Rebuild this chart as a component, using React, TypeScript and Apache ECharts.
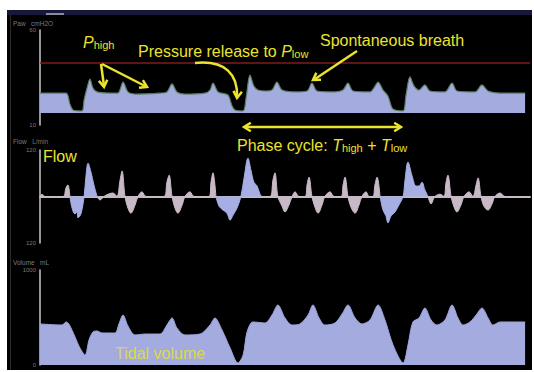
import React, { useEffect, useRef } from "react";
import * as echarts from "echarts";

// ---- Pressure (Paw, cmH2O) ----
const pressureTime = [0, 1.06, 1.22, 1.35, 1.71, 1.8, 1.92, 2.04, 2.16, 2.33, 2.86, 3.18, 3.39, 3.59, 3.88, 4.9, 5.18, 5.39, 5.59, 5.92, 6.73, 6.94, 7.06, 7.27, 7.67, 7.84, 7.96, 8.29, 8.41, 8.57, 8.73, 8.9, 9.22, 9.47, 9.67, 9.88, 10.41, 10.9, 11.1, 11.31, 12.04, 12.37, 12.57, 12.78, 13.47, 13.63, 13.8, 14.0, 14.2, 14.37, 14.49, 14.82, 14.94, 15.1, 15.27, 15.47, 15.71, 15.92, 16.53, 16.82, 17.02, 17.76, 18.04, 18.29, 18.78, 19.8];
const pressureCmH2O = [26.8, 26.8, 21.1, 17.9, 17.4, 23.2, 29.5, 34.2, 29.5, 27.4, 26.8, 26.8, 32.6, 27.4, 26.3, 26.8, 27.4, 31.6, 27.4, 26.3, 26.8, 28.4, 32.1, 27.4, 25.8, 20.0, 17.9, 17.4, 24.2, 36.3, 30.5, 28.4, 27.9, 28.4, 32.6, 28.4, 27.4, 27.9, 32.1, 27.9, 27.4, 28.4, 32.1, 27.9, 27.4, 29.5, 32.6, 28.4, 25.3, 18.9, 17.9, 17.4, 25.8, 35.3, 30.5, 28.4, 31.1, 27.9, 27.4, 32.1, 27.9, 27.4, 31.1, 27.9, 26.8, 26.8];
const pressureFillBase = 16.3;
const pressureLimit = 42.6;
const pressureTicks = [10, 60];

// ---- Flow (L/min) ----
const flowTime = [0, 0.08, 0.2, 0.94, 1.06, 1.14, 1.22, 1.31, 1.43, 1.51, 1.55, 1.67, 1.8, 1.88, 1.96, 2.08, 2.2, 2.33, 2.45, 2.61, 2.78, 2.98, 3.14, 3.27, 3.35, 3.47, 3.59, 3.71, 3.88, 4.0, 4.16, 4.33, 5.06, 5.18, 5.27, 5.39, 5.51, 5.63, 5.8, 5.92, 6.12, 6.29, 6.9, 6.98, 7.06, 7.18, 7.31, 7.47, 7.63, 7.76, 7.88, 8.04, 8.2, 8.33, 8.49, 8.61, 8.73, 8.86, 8.98, 9.06, 9.39, 9.51, 9.59, 9.71, 9.88, 10.0, 10.16, 10.29, 10.41, 10.57, 10.82, 10.9, 10.98, 11.1, 11.22, 11.35, 11.51, 11.63, 11.84, 12.0, 12.29, 12.37, 12.45, 12.57, 12.69, 12.86, 13.02, 13.14, 13.31, 13.43, 13.59, 13.67, 13.76, 13.88, 14.0, 14.12, 14.2, 14.33, 14.49, 14.65, 14.82, 14.9, 15.02, 15.18, 15.35, 15.47, 15.59, 15.71, 15.84, 15.96, 16.12, 16.33, 16.49, 16.57, 16.65, 16.78, 16.9, 17.02, 17.18, 17.31, 17.51, 17.67, 17.8, 17.88, 18.0, 18.12, 18.29, 18.45, 18.57, 18.78, 18.98, 20];
const flowLpm = [0, 6, 0, 0, 22, 30, 0, -30, -45, -40, -55, -45, 0, 55, 86, 63, 30, 0, -9, 0, 6, 9, 0, 43, 66, 0, -30, -43, -22, 0, 12, 0, 0, 37, 55, 0, -30, -43, -22, 0, 12, 0, 0, 37, 61, 0, -25, -35, -43, -61, -48, -30, 0, 48, 99, 68, 37, 27, 6, 0, 0, 43, 61, 0, -25, -40, -22, 0, 12, 0, 0, 30, 50, 0, -27, -43, -22, 0, 12, 0, 0, 30, 50, 0, -27, -43, -22, 0, 12, 0, 0, 30, 50, 0, -35, -50, -68, -50, -40, -22, 0, 43, 89, 55, 27, 27, 37, 17, 0, -19, 0, 6, 0, 35, 55, 0, -27, -40, -22, 0, 12, 0, 30, 48, 0, -25, -35, -19, 0, 9, 0, 0];
const flowReleaseRanges = [[1.22, 2.33], [7.18, 9.06], [13.88, 15.84]];
const flowTicks = [-120, 120];

// ---- Volume (mL) ----
const volumeTime = [0, 0.9, 1.06, 1.18, 1.43, 1.63, 1.84, 2.0, 2.16, 2.33, 2.53, 3.06, 3.22, 3.39, 3.59, 3.88, 4.29, 4.9, 5.18, 5.39, 5.59, 5.92, 6.53, 6.94, 7.14, 7.43, 7.76, 8.08, 8.29, 8.45, 8.69, 9.18, 9.47, 9.71, 10.0, 10.29, 10.61, 10.94, 11.14, 11.39, 11.63, 12.04, 12.33, 12.57, 12.86, 13.14, 13.47, 13.8, 14.08, 14.41, 14.82, 15.02, 15.22, 15.47, 15.71, 15.96, 16.2, 16.53, 16.82, 17.06, 17.27, 17.55, 17.8, 18.04, 18.29, 18.49, 18.78, 19.8];
const volumeMl = [432, 421, 453, 432, 295, 179, 105, 263, 347, 358, 337, 337, 432, 526, 411, 316, 326, 326, 421, 495, 389, 316, 326, 421, 495, 368, 179, 21, 105, 347, 453, 442, 526, 632, 495, 421, 432, 526, 632, 495, 421, 442, 537, 632, 495, 432, 474, 632, 474, 211, 21, 211, 453, 495, 600, 474, 421, 474, 632, 495, 421, 453, 526, 600, 495, 421, 453, 453];
const volumeTicks = [0, 1000];

const YELLOW = "#ebe32c";
const FONT = "'Liberation Sans', Arial, sans-serif";

function zip(t: number[], v: (number | null)[]) {
  return t.map((x, i) => [x, v[i]]);
}

function chevron(tx: number, ty: number, dx: number, dy: number, len = 8, deg = 32) {
  const m = Math.hypot(dx, dy);
  const ux = dx / m, uy = dy / m;
  const a = (deg * Math.PI) / 180;
  const r = (s: number) => [
    tx - len * (ux * Math.cos(s * a) - uy * Math.sin(s * a)),
    ty - len * (ux * Math.sin(s * a) + uy * Math.cos(s * a)),
  ];
  return {
    type: "polyline",
    z: 100,
    shape: { points: [r(1), [tx, ty], r(-1)] },
    style: { stroke: YELLOW, lineWidth: 2.5, fill: null, lineJoin: "miter" },
  };
}

function arrowLine(x1: number, y1: number, x2: number, y2: number) {
  return {
    type: "line",
    z: 100,
    shape: { x1, y1, x2, y2 },
    style: { stroke: YELLOW, lineWidth: 2.5 },
  };
}

const richStyles = {
  n: { fontSize: 16, fontFamily: FONT, fill: YELLOW, verticalAlign: "bottom" },
  i: { fontSize: 16, fontFamily: FONT, fontStyle: "italic", fill: YELLOW, verticalAlign: "bottom" },
  s: { fontSize: 11, fontFamily: FONT, fill: YELLOW, verticalAlign: "bottom" },
};

function label(text: string, x: number, y: number, fill = YELLOW) {
  return {
    type: "text",
    z: 100,
    x,
    y,
    style: {
      text,
      fill,
      fontSize: 16,
      fontFamily: FONT,
      verticalAlign: "middle",
      rich: richStyles,
    },
  };
}

function smallText(text: string, x: number, y: number) {
  return {
    type: "text",
    z: 100,
    x,
    y,
    style: { text, fill: "#7a7a7a", fontSize: 6.5, fontFamily: FONT, verticalAlign: "middle" },
  };
}

export default function App() {
  const ref = useRef<HTMLDivElement>(null);
  useEffect(() => {
    if (!ref.current) return;
    const chart = echarts.init(ref.current, undefined, { renderer: "svg" });

    const inRelease = (t: number) => flowReleaseRanges.some(([a, b]) => t >= a && t <= b);
    const strictlyInRelease = (t: number) => flowReleaseRanges.some(([a, b]) => t > a && t < b);
    const flowGrey = flowTime.map((t, i) => [t, strictlyInRelease(t) ? null : flowLpm[i]]);
    const flowBlue = flowTime.map((t, i) => [t, inRelease(t) ? flowLpm[i] : null]);

    const axisLine = { show: true, lineStyle: { color: "#cdc6cd", width: 1.5 } };
    const yBase = {
      type: "value",
      axisLine,
      axisTick: { show: false },
      splitLine: { show: false },
    };
    const labelStyle = { show: true, fontSize: 6, color: "#7a7a7a", margin: 4, fontFamily: FONT };

    const option: any = {
      animation: false,
      backgroundColor: "#ffffff",
      grid: [
        { left: 40, top: 30, width: 490, height: 95 },
        { left: 40, top: 150, width: 490, height: 93 },
        { left: 40, top: 270, width: 490, height: 95 },
      ],
      xAxis: [0, 1, 2].map((i) => ({
        type: "value",
        gridIndex: i,
        min: 0,
        max: 20,
        show: i === 1,
        axisLine: { show: i === 1, onZero: true, lineStyle: { color: "#c2b9c2", width: 2 } },
        axisTick: { show: false },
        axisLabel: { show: false },
        splitLine: { show: false },
      })),
      yAxis: [
        {
          ...yBase,
          gridIndex: 0,
          min: 10,
          max: 60,
          interval: 10,
          axisLabel: { ...labelStyle, formatter: (v: number) => (pressureTicks.includes(v) ? String(v) : "") },
        },
        {
          ...yBase,
          gridIndex: 1,
          min: -120,
          max: 120,
          interval: 120,
          axisLabel: { ...labelStyle, formatter: (v: number) => (flowTicks.includes(v) ? String(Math.abs(v)) : "") },
        },
        {
          ...yBase,
          gridIndex: 2,
          min: 0,
          max: 1000,
          interval: 1000,
          axisLabel: { ...labelStyle, formatter: (v: number) => (volumeTicks.includes(v) ? String(v) : "") },
        },
      ],
      series: [
        {
          name: "Pressure",
          type: "line",
          xAxisIndex: 0,
          yAxisIndex: 0,
          data: zip(pressureTime, pressureCmH2O),
          symbol: "none",
          smooth: 0.3,
          lineStyle: { color: "#5b7f62", width: 1.2 },
          areaStyle: { color: "#a3abdf", opacity: 1, origin: pressureFillBase },
          markLine: {
            silent: true,
            symbol: "none",
            label: { show: false },
            lineStyle: { color: "#7d1d1d", width: 1.5, type: "solid" },
            data: [{ yAxis: pressureLimit }],
          },
        },
        {
          name: "Flow",
          type: "line",
          xAxisIndex: 1,
          yAxisIndex: 1,
          data: flowGrey,
          symbol: "none",
          smooth: 0.35,
          connectNulls: false,
          lineStyle: { color: "#c9bdc9", width: 1 },
          areaStyle: { color: "#c8b9c6", opacity: 1, origin: 0 },
        },
        {
          name: "Flow release",
          type: "line",
          xAxisIndex: 1,
          yAxisIndex: 1,
          data: flowBlue,
          symbol: "none",
          smooth: 0.35,
          connectNulls: false,
          lineStyle: { color: "#a6aee4", width: 1 },
          areaStyle: { color: "#a6aee4", opacity: 1, origin: 0 },
        },
        {
          name: "Volume",
          type: "line",
          xAxisIndex: 2,
          yAxisIndex: 2,
          data: zip(volumeTime, volumeMl),
          symbol: "none",
          smooth: 0.3,
          lineStyle: { color: "#9ea6da", width: 1 },
          areaStyle: { color: "#a3abdf", opacity: 1 },
        },
      ],
      graphic: {
        elements: [
          { type: "rect", z: -100, shape: { x: 7, y: 10, width: 525, height: 360 }, style: { fill: "#000000" } },
          { type: "rect", z: -99, shape: { x: 7, y: 10, width: 525, height: 5 }, style: { fill: "#17173a" } },
          { type: "rect", z: -98, shape: { x: 46, y: 13, width: 18, height: 2 }, style: { fill: "#8a8a9a" } },
          { type: "rect", z: -98, shape: { x: 10, y: 15, width: 1, height: 355 }, style: { fill: "#2a2a2a" } },
          smallText("Paw   cmH2O", 13, 23),
          smallText("Flow   L/min", 13, 141),
          smallText("Volume   mL", 13, 262),
          label("{i|P}{s|high}", 83, 42),
          label("{n|Pressure release to }{i|P}{s|low}", 138, 51),
          label("Spontaneous breath", 320, 40),
          label("{n|Phase cycle: }{i|T}{s|high}{n| + }{i|T}{s|low}", 237, 145),
          label("Flow", 43, 156),
          label("Tidal volume", 115, 353, "#dcd84e"),
          // P-high arrows
          arrowLine(101, 64, 104, 86),
          chevron(104, 87, 3, 22),
          arrowLine(102, 64, 145, 86),
          chevron(147, 87, 43, 22),
          // Pressure release curved arrow
          {
            type: "bezierCurve",
            z: 100,
            shape: { x1: 195, y1: 63, cpx1: 226, cpy1: 60, cpx2: 238, cpy2: 75, x2: 237, y2: 97 },
            style: { stroke: YELLOW, lineWidth: 2.5, fill: null },
          },
          chevron(237, 98, -0.1, 1),
          // Spontaneous breath arrow
          arrowLine(357, 51, 315, 79),
          chevron(313, 80, -44, 29),
          // Phase cycle double arrow
          arrowLine(245, 127, 400, 127),
          chevron(244, 127, -1, 0),
          chevron(401, 127, 1, 0),
        ],
      },
    };

    chart.setOption(option);
    return () => chart.dispose();
  }, []);

  return (
    <div
      ref={ref}
      style={{ position: "fixed", left: 0, top: 0, width: 534, height: 372 }}
    />
  );
}
